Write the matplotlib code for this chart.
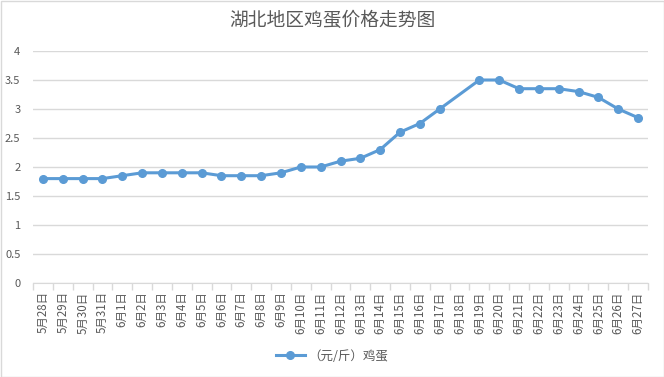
import numpy as np
import matplotlib.pyplot as plt
from matplotlib.ticker import FixedLocator

plt.rcParams['font.family'] = ['Noto Sans CJK SC', 'DejaVu Sans']

# dates (category labels) and prices, 6月18日 has no value
dates = ['5月28日', '5月29日', '5月30日', '5月31日'] + ['6月%d日' % d for d in range(1, 28)]
prices = [1.8, 1.8, 1.8, 1.8, 1.85, 1.9, 1.9, 1.9, 1.9, 1.85, 1.85, 1.85, 1.9, 2.0, 2.0,
          2.1, 2.15, 2.3, 2.6, 2.75, 3.0, np.nan, 3.5, 3.5, 3.35, 3.35, 3.35, 3.3, 3.2, 3.0, 2.85]
yticks = [0, 0.5, 1, 1.5, 2, 2.5, 3, 3.5, 4]
series_name = '（元/斤）鸡蛋'
title = '湖北地区鸡蛋价格走势图'

grey = '#595959'
line_c = '#5B9BD5'

fig = plt.figure(figsize=(6.64, 3.77), dpi=100)
ax = fig.add_axes([33/664, 1-283/377, 615/664, 232/377])

x = np.arange(len(dates))
y = np.array(prices)
ok = ~np.isnan(y)
ax.plot(x[ok], y[ok], color=line_c, lw=2.2, marker='o', ms=5.5, label=series_name)

ax.set_xlim(-0.5, len(dates) - 0.5)
ax.set_ylim(0, 4)
ax.set_yticks(yticks)
ax.set_yticklabels(['%g' % v for v in yticks])
ax.grid(axis='y', color='#D9D9D9', lw=1)
ax.set_axisbelow(True)

ax.set_xticks(x)
ax.set_xticklabels(dates, rotation=90, fontsize=8.3, color=grey)
ax.xaxis.set_minor_locator(FixedLocator(np.arange(-0.5, len(dates), 1)))
ax.tick_params(axis='x', which='major', length=0, pad=6)
ax.tick_params(axis='x', which='minor', length=5, color='#D9D9D9', width=1)
ax.tick_params(axis='y', length=0, labelsize=8, labelcolor=grey, pad=9)

for s in ['top', 'right', 'left']:
    ax.spines[s].set_visible(False)
ax.spines['bottom'].set_color('#D9D9D9')

fig.text(0.5, 1-20/377, title, ha='center', va='center', fontsize=13.5, color=grey)
fig.legend(loc='center', bbox_to_anchor=(0.5, 1-356/377), frameon=False, fontsize=9,
           labelcolor=grey, handlelength=2.3, handletextpad=0.3)

fig.patches.append(plt.Rectangle((0.5/664, 0.5/377), 1-1/664, 1-1/377, transform=fig.transFigure,
                                 fill=False, edgecolor='#D9D9D9', lw=1))

fig.savefig('out.png', dpi=100)
